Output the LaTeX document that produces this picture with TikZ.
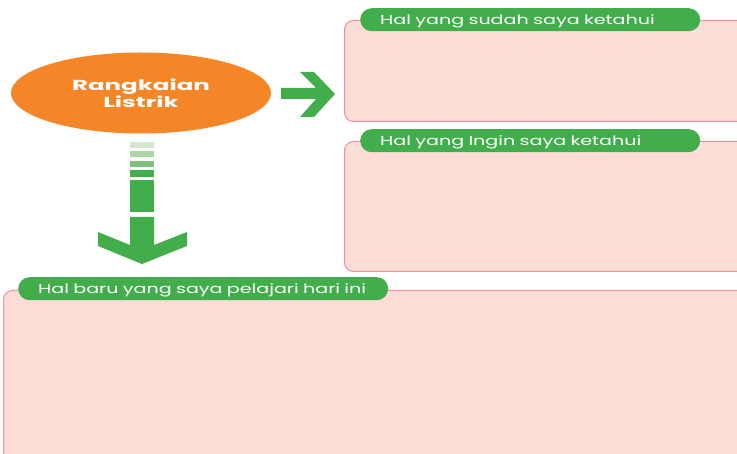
\documentclass[tikz,border=0pt]{standalone}
\usepackage{fontspec}
\usepackage{tikz}
\usetikzlibrary{positioning,shapes.geometric}
\newfontfamily\hurufteks[FakeStretch=1.47]{Poppins}
\newfontfamily\hurufjudul[FakeStretch=1.69]{Poppins}
\definecolor{hijau}{HTML}{41AE4B}
\definecolor{hijaua}{HTML}{D3E8CF}
\definecolor{hijaub}{HTML}{A9D6A3}
\definecolor{hijauc}{HTML}{7FC27A}
\definecolor{oranye}{HTML}{F48627}
\definecolor{merahmuda}{HTML}{FBDCD7}
\definecolor{garis}{HTML}{F0909C}

\begin{document}
\begin{tikzpicture}[x=1pt,y=-1pt,
  kotak/.style={draw=garis,fill=merahmuda,line width=1pt,rounded corners=9pt,anchor=north west,inner sep=0pt},
  judul/.style={fill=hijau,text=white,rounded corners=11.5pt,anchor=north west,minimum height=23pt,
    inner xsep=20pt,inner ysep=0pt,text height=10pt,text depth=1pt,align=left,
    font=\hurufteks\fontsize{13}{13}\selectfont}]
        \useasboundingbox (0,0) rectangle (737,454);
        \fill[white] (0,0) rectangle (737,454);

        \node[ellipse,fill=oranye,minimum width=260pt,minimum height=81pt,inner sep=0pt,text=white,align=center,
          font=\hurufjudul\bfseries\fontsize{14.5}{14}\selectfont] (topik) at (141,93) {Rangkaian\\Listrik};

        \node[kotak,minimum width=410pt,minimum height=101pt] (sudah) at (344,20) {};
        \node[judul,text width=300pt] (judulsudah) at (360,8) {Hal yang sudah saya ketahui};

        \node[kotak,minimum width=410pt,minimum height=130pt] (ingin) at (344,141) {};
        \node[judul,text width=300pt] (juduldingin) at (360,129) {Hal yang Ingin saya ketahui};

        \node[kotak,minimum width=760pt,minimum height=190pt] (baru) at (3,290) {};
        \node[judul,text width=330pt] (judulbaru) at (18,277) {Hal baru yang saya pelajari hari ini};

        \fill[hijau] (281,88) -- (316,88) -- (300,72) -- (314,72) -- (335,94) -- (314,117) -- (300,117) -- (316,99) -- (281,99) -- cycle;

        \fill[hijaua] (130,142) rectangle (154,148);
        \fill[hijaub] (130,151) rectangle (154,157);
        \fill[hijauc] (130,161) rectangle (154,167);
        \fill[hijau] (130,170) rectangle (154,177);
        \fill[hijau] (130,180) rectangle (154,212);
        \fill[hijau] (130,217) -- (154,217) -- (154,245) -- (187,232) -- (187,246) -- (142,264) -- (98,246) -- (98,232) -- (130,245) -- cycle;

      \end{tikzpicture}
\end{document}
